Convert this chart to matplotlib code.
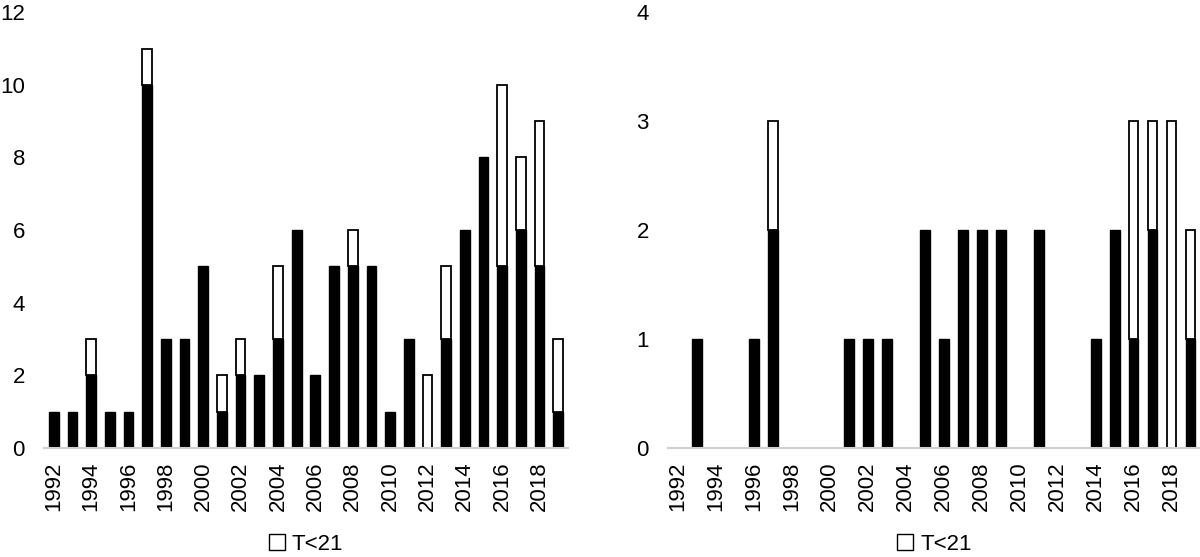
import numpy as np
import matplotlib.pyplot as plt
from matplotlib import font_manager
from matplotlib.patches import Patch

years = list(range(1992, 2020))

# left panel
left_black = [1, 1, 2, 1, 1, 10, 3, 3, 5, 1, 2, 2, 3, 6, 2, 5, 5, 5, 1, 3, 0, 3, 6, 8, 5, 6, 5, 1]
left_white = [0, 0, 1, 0, 0, 1, 0, 0, 0, 1, 1, 0, 2, 0, 0, 0, 1, 0, 0, 0, 2, 2, 0, 0, 5, 2, 4, 2]

# right panel
right_black = [0, 1, 0, 0, 1, 2, 0, 0, 0, 1, 1, 1, 0, 2, 1, 2, 2, 2, 0, 2, 0, 0, 1, 2, 1, 2, 0, 1]
right_white = [0, 0, 0, 0, 0, 1, 0, 0, 0, 0, 0, 0, 0, 0, 0, 0, 0, 0, 0, 0, 0, 0, 0, 0, 2, 1, 3, 1]

names = {f.name for f in font_manager.fontManager.ttflist}
fam = ['Liberation Sans Narrow'] if 'Liberation Sans Narrow' in names else []
plt.rcParams['font.family'] = fam + ['Liberation Sans', 'DejaVu Sans']

fig = plt.figure(figsize=(12, 5.57), dpi=100)
ax1 = fig.add_axes([0.037, 0.196, 0.436, 0.782])
ax2 = fig.add_axes([0.557, 0.196, 0.443, 0.782])


def draw(ax, black, white, ymax):
    b = np.array(black)
    w = np.array(white)
    ax.bar(years, b, width=0.52, color='black', edgecolor='black', linewidth=1)
    wy = [y for y, v in zip(years, w) if v > 0]
    ax.bar(wy, w[w > 0], bottom=b[w > 0], width=0.52, color='white',
           edgecolor='black', linewidth=1.3)
    ax.set_xlim(1991.5, 2019.5)
    ax.set_ylim(0, ymax)
    ax.set_yticks(range(0, ymax + 1, 2 if ymax > 4 else 1))
    ax.set_xticks(years[::2])
    ax.set_xticklabels([str(y) for y in years[::2]], rotation=90)
    for s in ['top', 'right', 'left']:
        ax.spines[s].set_visible(False)
    ax.spines['bottom'].set_color('#d0d0d0')
    ax.spines['bottom'].set_linewidth(1.5)
    ax.tick_params(length=0, labelsize=16, pad=10)
    ax.tick_params(axis='y', pad=14)
    ax.legend(handles=[Patch(facecolor='white', edgecolor='black', linewidth=1)],
              labels=['T<21'], loc='center', bbox_to_anchor=(0.5, -0.222),
              frameon=False, fontsize=16, handlelength=0.75, handleheight=0.75,
              handletextpad=0.3, borderaxespad=0)


draw(ax1, left_black, left_white, 12)
draw(ax2, right_black, right_white, 4)

fig.savefig('out.png', dpi=100)
